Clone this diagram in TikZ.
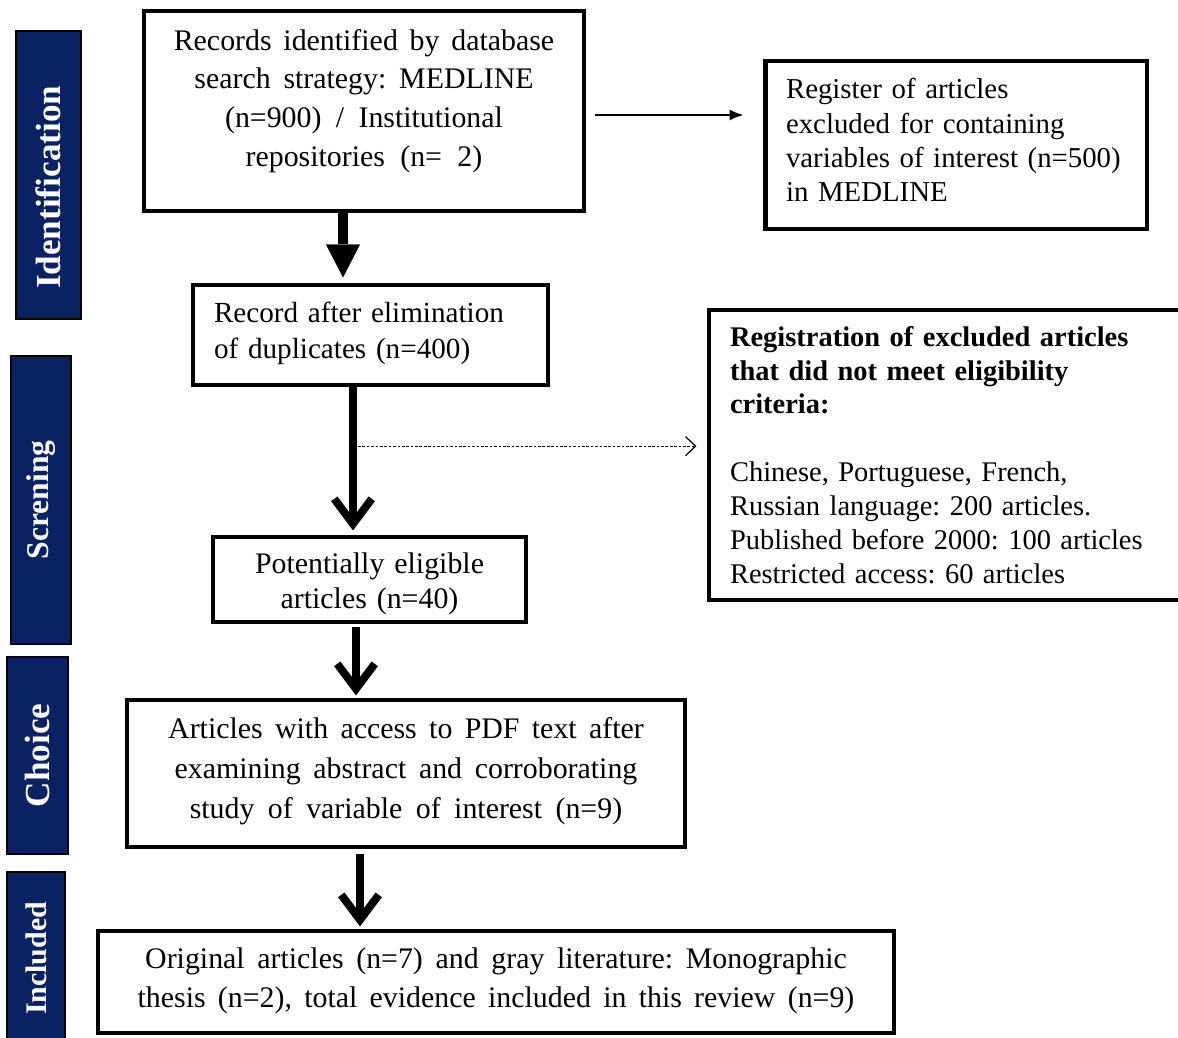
\documentclass[tikz,border=0pt]{standalone}
\usepackage{fontspec}
\setmainfont{Liberation Serif}
\frenchspacing
\usetikzlibrary{arrows.meta}
\definecolor{phasenavy}{RGB}{10,34,98}
\newcommand\padbelow[1]{\par\vspace{#1}\hrule height 0pt\relax}

\tikzset{
  box/.style={draw=black, line width=1.8pt, fill=white, inner xsep=0.42cm, inner ysep=0pt,
    font=\fontsize{17pt}{22pt}\selectfont, align=center},
  widewords/.style={execute at begin node={\spaceskip=0.38em plus 0.1em\relax}},
  leftbox/.style={box, align=left},
  phase/.style={draw=black, line width=1.2pt, fill=phasenavy, text=white, rotate=90, inner sep=0pt},
  fatarrow/.style={line width=5.5pt, -{Triangle[length=0.66cm,width=0.68cm,line width=0.1pt]}},
  vee/.style={line width=4.5pt, -{Straight Barb[length=0.5cm,width=0.75cm]}},
  thinarrow/.style={line width=1.1pt, -{Latex[length=0.28cm,width=0.22cm]}},
  dotarrow/.style={line width=0.7pt, dash pattern=on 1.5pt off 1pt, -{Straight Barb[length=0.2cm,width=0.38cm]}}
}

\begin{document}
\begin{tikzpicture}[x=0.02cm,y=-0.02cm]
\useasboundingbox (0,0) rectangle (1178,1038);
\clip (0,0) rectangle (1178,1038);

% phase bars
\node[phase, minimum width=5.76cm, minimum height=1.3cm, font=\fontsize{20pt}{24pt}\selectfont\bfseries] (ident) at (48.5,175) {Identification\hspace*{14pt}\mbox{}};
\node[phase, minimum width=5.76cm, minimum height=1.2cm, font=\fontsize{18pt}{22pt}\selectfont\bfseries] (screen) at (41,500) {Screning};
\node[phase, minimum width=3.94cm, minimum height=1.22cm, font=\fontsize{20pt}{24pt}\selectfont\bfseries] (choice) at (37.5,755.5) {Choice};
\node[phase, minimum width=3.46cm, minimum height=1.16cm, font=\fontsize{17pt}{21pt}\selectfont\bfseries] (included) at (36,958.5) {Included};

% flow boxes
\node[box, widewords, text width=7.96cm, minimum height=4cm] (search) at (364,111)
  {Records identified by database\\ search strategy: MEDLINE\\ (n=900) / Institutional\\ repositories (n= 2)\padbelow{11.4pt}};
\node[leftbox, line width=2.8pt, text width=6.8cm, minimum height=3.36cm, font=\fontsize{16.4pt}{19.5pt}\selectfont] (excluded) at (956,145)
  {Register of articles\\ excluded for containing\\ variables of interest (n=500)\\ in MEDLINE\padbelow{5.5pt}};
\node[leftbox, text width=6.26cm, minimum height=2cm, font=\fontsize{16.6pt}{20.5pt}\selectfont] (dedup) at (370.5,335)
  {Record after elimination\\ of duplicates (n=400)\padbelow{2.3pt}};
\node[leftbox, text width=8.78cm, minimum height=5.8cm, font=\fontsize{16.2pt}{19.3pt}\selectfont] (ineligible) at (949.5,455)
  {\textbf{Registration of excluded articles}\\ \textbf{that did not meet eligibility}\\ \textbf{criteria:}\\[19.3pt]
   Chinese, Portuguese, French,\\ Russian language: 200 articles.\\ Published before 2000: 100 articles\\ Restricted access: 60 articles};
\node[box, text width=5.42cm, minimum height=1.7cm, font=\fontsize{17pt}{20pt}\selectfont] (eligible) at (369.5,579.5)
  {Potentially eligible\\ articles (n=40)\padbelow{-4.5pt}};
\node[box, widewords, text width=10.32cm, minimum height=2.94cm] (fulltext) at (406,773.5)
  {Articles with access to PDF text after\\[0.7pt] examining abstract and corroborating\\[0.7pt] study of variable of interest (n=9)\padbelow{2.3pt}};
\node[box, widewords, text width=15.08cm, minimum height=2.04cm] (final) at (496,982)
  {Original articles (n=7) and gray literature: Monographic\\ thesis (n=2), total evidence included in this review (n=9)\padbelow{1pt}};

% connectors
\draw[fatarrow, shorten >=0.12cm] ([xshift=-0.42cm]search.south) -- ([xshift=-0.42cm]search.south |- dedup.north);
\draw[vee, shorten >=0.1cm] ([xshift=-0.35cm]dedup.south) -- coordinate[pos=0.4] (branch) ([xshift=-0.35cm]dedup.south |- eligible.north);
\draw[vee, shorten <=0.06cm, shorten >=0.06cm] ([xshift=-0.27cm]eligible.south) -- ([xshift=-0.27cm]eligible.south |- fulltext.north);
\draw[vee, shorten <=0.1cm, shorten >=0.06cm] ([xshift=-0.92cm]fulltext.south) -- ([xshift=-0.92cm]fulltext.south |- final.north);
\draw[thinarrow, shorten <=0.18cm, shorten >=0.38cm] ([yshift=-0.08cm]search.east) -- ([yshift=-0.08cm]search.east -| excluded.west);
\draw[dotarrow, shorten <=0.1cm, shorten >=0.22cm] (branch) -- (branch -| ineligible.west);
\end{tikzpicture}
\end{document}
